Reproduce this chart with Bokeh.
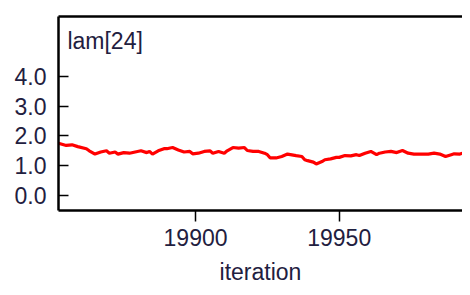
from bokeh.plotting import figure
from bokeh.models import LinearAxis, FixedTicker, NumeralTickFormatter, Range1d, Label
from bokeh.embed import file_html
from bokeh.resources import INLINE

iterations = [19852, 19855, 19857, 19859, 19862, 19863, 19865, 19867, 19869, 19870,
              19872, 19873, 19875, 19877, 19879, 19881, 19883, 19884, 19885, 19887,
              19889, 19890, 19892, 19894, 19896, 19898, 19899, 19901, 19903, 19905,
              19906, 19908, 19910, 19911, 19913, 19915, 19917, 19918, 19920, 19922,
              19924, 19925, 19926, 19928, 19930, 19932, 19935, 19937, 19938, 19939,
              19941, 19942, 19944, 19945, 19947, 19949, 19950, 19952, 19954, 19956,
              19957, 19959, 19961, 19963, 19964, 19966, 19968, 19970, 19971, 19972,
              19974, 19976, 19978, 19981, 19983, 19985, 19987, 19989, 19990, 19992,
              19994, 19996]
lam24 = [1.76, 1.68, 1.70, 1.64, 1.57, 1.50, 1.39, 1.46, 1.50, 1.42,
         1.46, 1.39, 1.44, 1.42, 1.46, 1.50, 1.44, 1.48, 1.39, 1.50,
         1.57, 1.57, 1.61, 1.53, 1.46, 1.48, 1.40, 1.42, 1.48, 1.50,
         1.42, 1.48, 1.42, 1.50, 1.61, 1.59, 1.61, 1.51, 1.48, 1.48,
         1.42, 1.37, 1.26, 1.26, 1.31, 1.39, 1.34, 1.31, 1.20, 1.17,
         1.12, 1.06, 1.14, 1.20, 1.23, 1.28, 1.28, 1.34, 1.33, 1.37,
         1.34, 1.42, 1.48, 1.37, 1.42, 1.46, 1.48, 1.44, 1.48, 1.51,
         1.42, 1.39, 1.39, 1.39, 1.42, 1.39, 1.31, 1.37, 1.40, 1.39,
         1.46, 1.50]
y_ticks = [0, 1, 2, 3, 4]
x_ticks = [19900, 19950]
node_name = "lam[24]"
x_title = "iteration"

FONT = "Liberation Sans"
TXT = "#1f2040"

p = figure(width=462, height=287, output_backend="svg", toolbar_location=None,
           x_range=Range1d(19852.3, 19992.9), y_range=Range1d(-0.5, 6.0),
           x_axis_label=x_title, min_border_left=58, min_border_right=0,
           min_border_top=16, min_border_bottom=76)
p.outline_line_color = None
p.xgrid.visible = False
p.ygrid.visible = False
p.background_fill_color = "white"
p.border_fill_color = "white"

p.line(iterations, lam24, line_color="#ff0000", line_width=3.2)

# y axis
ya = p.yaxis[0]
ya.ticker = FixedTicker(ticks=y_ticks)
ya.formatter = NumeralTickFormatter(format="0.0")
ya.major_tick_in = 10
ya.major_tick_out = 0
ya.minor_tick_line_color = None
ya.major_tick_line_width = 1.5
ya.axis_line_width = 2.5
ya.axis_line_color = "black"
ya.major_label_standoff = 12
ya.major_label_text_font = FONT
ya.major_label_text_font_size = "23px"
ya.major_label_text_color = TXT

# x axis
xa = p.xaxis[0]
xa.ticker = FixedTicker(ticks=x_ticks)
xa.major_tick_in = 0
xa.major_tick_out = 11
xa.minor_tick_line_color = None
xa.major_tick_line_width = 1.5
xa.axis_line_width = 2.5
xa.axis_line_color = "black"
xa.major_label_standoff = 7
xa.major_label_text_font = FONT
xa.major_label_text_font_size = "23px"
xa.major_label_text_color = TXT
xa.major_label_text_line_height = 0.8
xa.axis_label_text_font = FONT
xa.axis_label_text_font_size = "23px"
xa.axis_label_text_font_style = "normal"
xa.axis_label_text_color = TXT
xa.axis_label_text_line_height = 0.8
xa.axis_label_standoff = 10

# top border
top = LinearAxis(ticker=FixedTicker(ticks=[]), axis_line_width=2.5,
                 axis_line_color="black", major_tick_line_color=None,
                 minor_tick_line_color=None, major_label_text_font_size="0px")
p.add_layout(top, "above")

p.add_layout(Label(x=19855.4, y=5.62, text=node_name, text_font=FONT,
                   text_font_size="23px", text_color=TXT, text_baseline="top",
                   text_align="left"))

open("out.html", "w").write(file_html(p, INLINE))
